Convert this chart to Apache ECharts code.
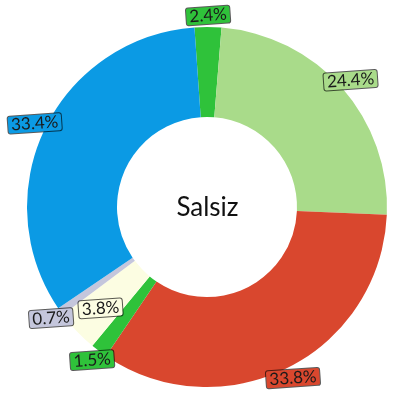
<!DOCTYPE html>
<html>
<head>
<meta charset="utf-8">
<script src="https://cdn.jsdelivr.net/npm/echarts@6/dist/echarts.min.js"></script>
<style>
html,body{margin:0;padding:0;background:#fff;}
#chart{width:415px;height:415px;}
</style>
</head>
<body>
<div id="chart"></div>
<script>
const categories = ['A', 'B', 'C', 'D', 'E', 'F', 'G'];
const values = [2.4, 24.4, 33.8, 1.5, 3.8, 0.7, 33.4];
const colors = ['#2fc23a', '#a9db8a', '#d9472e', '#2fc23a', '#fcfde2', '#c4c6dc', '#0b9ae4'];
const centerTitle = 'Salsiz';
const innerLabelIdx = [4];

const FONT = 'Lato, "Open Sans", sans-serif';

function ringData() {
  return categories.map((c, i) => ({ name: c, value: values[i], itemStyle: { color: colors[i] } }));
}
function labelData(showFn) {
  return categories.map((c, i) => ({
    name: c, value: values[i],
    label: {
      show: showFn(i),
      backgroundColor: colors[i]
    }
  }));
}
const labelStyle = {
  position: 'inside',
  formatter: p => p.value.toFixed(1) + '%',
  color: '#1a1a1a',
  fontFamily: FONT,
  fontSize: 17,
  lineHeight: 16,
  borderColor: 'rgba(0,0,0,0.65)',
  borderWidth: 1,
  borderRadius: 2,
  padding: [1, 3, 0, 3],
  rotate: 4
};

const chart = echarts.init(document.getElementById('chart'), null, { renderer: 'canvas' });
chart.setOption({
  animation: false,
  title: {
    text: centerTitle,
    left: 'center', top: 'middle',
    textStyle: { fontFamily: FONT, fontWeight: 'normal', fontSize: 26, color: '#111' }
  },
  series: [
    {
      type: 'pie', center: [207, 207], radius: [90, 180], startAngle: 94,
      clockwise: true, silent: true, label: { show: false }, labelLine: { show: false },
      data: ringData()
    },
    {
      type: 'pie', center: [207, 207], radius: [0, 377], startAngle: 94,
      clockwise: true, silent: true, labelLine: { show: false },
      itemStyle: { color: 'rgba(0,0,0,0)' },
      label: labelStyle,
      data: labelData(i => innerLabelIdx.indexOf(i) < 0)
    },
    {
      type: 'pie', center: [207, 207], radius: [0, 288], startAngle: 94,
      clockwise: true, silent: true, labelLine: { show: false },
      itemStyle: { color: 'rgba(0,0,0,0)' },
      label: labelStyle,
      data: labelData(i => innerLabelIdx.indexOf(i) >= 0)
    }
  ]
});
</script>
</body>
</html>
